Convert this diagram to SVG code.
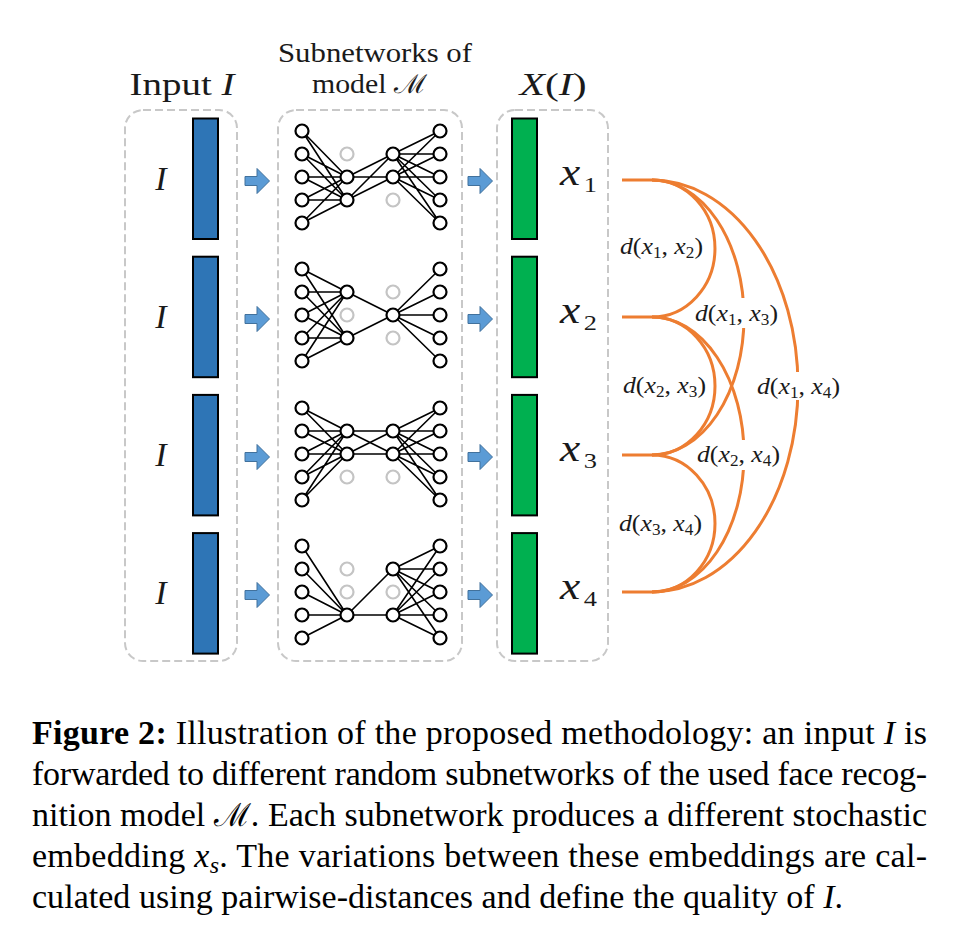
<svg xmlns="http://www.w3.org/2000/svg" width="961" height="945" viewBox="0 0 961 945">
<style>
.box{fill:none;stroke:#c8c8c8;stroke-width:2;stroke-dasharray:8 4}
.serif{font-family:"Liberation Serif",serif;fill:#1a1a1a}
.it{font-style:italic}
.bar1{fill:#2e75b6;stroke:#000;stroke-width:2}
.bar2{fill:#00b050;stroke:#000;stroke-width:2}
.arr{fill:#5b9bd5;stroke:#41719c;stroke-width:1}
.edge{fill:none;stroke:#000;stroke-width:1.6}
.n{fill:#fff;stroke:#000;stroke-width:2.2}
.g{fill:#fff;stroke:#c4c4c4;stroke-width:2.2}
.arc{fill:none;stroke:#ed7d31;stroke-width:3}
.lbl{font-size:24px}
.sub{font-size:16px}
.cap{font-size:34px;fill:#000}
</style>
<defs>
<polygon id="arrow" class="arr" points="245,-4.5 257,-4.5 257,-12.5 269.5,0 257,12.5 257,4.5 245,4.5"/>
</defs>
<rect width="961" height="945" fill="#fff"/>

<g id="header-input"><text class="serif" x="182" y="95" font-size="32" text-anchor="middle" textLength="105" lengthAdjust="spacingAndGlyphs">Input <tspan class="it">I</tspan></text></g>
<g id="header-sub">
<text class="serif" x="375" y="62" font-size="27" text-anchor="middle" textLength="194" lengthAdjust="spacingAndGlyphs">Subnetworks of</text>
<text class="serif" x="369.5" y="93" font-size="27" text-anchor="middle" textLength="115" lengthAdjust="spacingAndGlyphs">model <tspan font-family="DejaVu Serif,serif" font-size="26">ℳ</tspan></text>
</g>
<g id="header-x"><text class="serif" x="553" y="95" font-size="32" text-anchor="middle" textLength="67" lengthAdjust="spacingAndGlyphs"><tspan class="it">X</tspan>(<tspan class="it">I</tspan>)</text></g>

<g id="box-input"><rect class="box" x="125" y="110" width="112" height="551" rx="18"/></g>
<g id="box-sub"><rect class="box" x="278" y="110" width="184" height="551" rx="18"/></g>
<g id="box-x"><rect class="box" x="497" y="110" width="111" height="551" rx="18"/></g>

<g id="input-1"><text class="serif it" x="161" y="190" font-size="34" text-anchor="middle">I</text><rect class="bar1" x="193" y="118.5" width="25" height="120.5"/></g>
<g id="input-2"><text class="serif it" x="161" y="328" font-size="34" text-anchor="middle">I</text><rect class="bar1" x="193" y="256.7" width="25" height="120.5"/></g>
<g id="input-3"><text class="serif it" x="161" y="466" font-size="34" text-anchor="middle">I</text><rect class="bar1" x="193" y="394.9" width="25" height="120.5"/></g>
<g id="input-4"><text class="serif it" x="161" y="604" font-size="34" text-anchor="middle">I</text><rect class="bar1" x="193" y="533.1" width="25" height="120.5"/></g>

<g id="arrows">
<use href="#arrow" y="181"/><use href="#arrow" y="319"/><use href="#arrow" y="457"/><use href="#arrow" y="595"/>
<use href="#arrow" x="223" y="181"/><use href="#arrow" x="223" y="319"/><use href="#arrow" x="223" y="457"/><use href="#arrow" x="223" y="595"/>
</g>

<g id="net-1">
<path class="edge" d="M302 131L347 177M302 131L347 200M302 154L347 177M302 154L347 200M302 177L347 177M302 177L347 200M302 200L347 177M302 200L347 200M302 223L347 177M302 223L347 200M347 177L393 154M347 177L393 177M347 200L393 154M347 200L393 177M393 154L440 131M393 154L440 154M393 154L440 177M393 154L440 200M393 154L440 223M393 177L440 131M393 177L440 154M393 177L440 177M393 177L440 200M393 177L440 223"/>
<circle class="n" cx="302" cy="131" r="6.5"/><circle class="n" cx="302" cy="154" r="6.5"/><circle class="n" cx="302" cy="177" r="6.5"/><circle class="n" cx="302" cy="200" r="6.5"/><circle class="n" cx="302" cy="223" r="6.5"/>
<circle class="g" cx="347" cy="154" r="6.5"/><circle class="n" cx="347" cy="177" r="6.5"/><circle class="n" cx="347" cy="200" r="6.5"/>
<circle class="n" cx="393" cy="154" r="6.5"/><circle class="n" cx="393" cy="177" r="6.5"/><circle class="g" cx="393" cy="200" r="6.5"/>
<circle class="n" cx="440" cy="131" r="6.5"/><circle class="n" cx="440" cy="154" r="6.5"/><circle class="n" cx="440" cy="177" r="6.5"/><circle class="n" cx="440" cy="200" r="6.5"/><circle class="n" cx="440" cy="223" r="6.5"/>
</g>
<g id="net-2">
<path class="edge" d="M302 269L347 292M302 269L347 338M302 292L347 292M302 292L347 338M302 315L347 292M302 315L347 338M302 338L347 292M302 338L347 338M302 361L347 292M302 361L347 338M347 292L393 315M347 338L393 315M393 315L440 269M393 315L440 292M393 315L440 315M393 315L440 338M393 315L440 361"/>
<circle class="n" cx="302" cy="269" r="6.5"/><circle class="n" cx="302" cy="292" r="6.5"/><circle class="n" cx="302" cy="315" r="6.5"/><circle class="n" cx="302" cy="338" r="6.5"/><circle class="n" cx="302" cy="361" r="6.5"/>
<circle class="n" cx="347" cy="292" r="6.5"/><circle class="g" cx="347" cy="315" r="6.5"/><circle class="n" cx="347" cy="338" r="6.5"/>
<circle class="g" cx="393" cy="292" r="6.5"/><circle class="n" cx="393" cy="315" r="6.5"/><circle class="g" cx="393" cy="338" r="6.5"/>
<circle class="n" cx="440" cy="269" r="6.5"/><circle class="n" cx="440" cy="292" r="6.5"/><circle class="n" cx="440" cy="315" r="6.5"/><circle class="n" cx="440" cy="338" r="6.5"/><circle class="n" cx="440" cy="361" r="6.5"/>
</g>
<g id="net-3">
<path class="edge" d="M302 408L347 431M302 408L347 454M302 431L347 431M302 431L347 454M302 454L347 431M302 454L347 454M302 477L347 431M302 477L347 454M302 500L347 431M302 500L347 454M347 431L393 431M347 431L393 454M347 454L393 431M347 454L393 454M393 431L440 408M393 431L440 431M393 431L440 454M393 431L440 477M393 431L440 500M393 454L440 408M393 454L440 431M393 454L440 454M393 454L440 477M393 454L440 500"/>
<circle class="n" cx="302" cy="408" r="6.5"/><circle class="n" cx="302" cy="431" r="6.5"/><circle class="n" cx="302" cy="454" r="6.5"/><circle class="n" cx="302" cy="477" r="6.5"/><circle class="n" cx="302" cy="500" r="6.5"/>
<circle class="n" cx="347" cy="431" r="6.5"/><circle class="n" cx="347" cy="454" r="6.5"/><circle class="g" cx="347" cy="477" r="6.5"/>
<circle class="n" cx="393" cy="431" r="6.5"/><circle class="n" cx="393" cy="454" r="6.5"/><circle class="g" cx="393" cy="477" r="6.5"/>
<circle class="n" cx="440" cy="408" r="6.5"/><circle class="n" cx="440" cy="431" r="6.5"/><circle class="n" cx="440" cy="454" r="6.5"/><circle class="n" cx="440" cy="477" r="6.5"/><circle class="n" cx="440" cy="500" r="6.5"/>
</g>
<g id="net-4">
<path class="edge" d="M302 546L347 615M302 569L347 615M302 592L347 615M302 615L347 615M302 638L347 615M347 615L393 569M347 615L393 615M393 569L440 546M393 569L440 569M393 569L440 592M393 569L440 615M393 569L440 638M393 615L440 546M393 615L440 569M393 615L440 592M393 615L440 615M393 615L440 638"/>
<circle class="n" cx="302" cy="546" r="6.5"/><circle class="n" cx="302" cy="569" r="6.5"/><circle class="n" cx="302" cy="592" r="6.5"/><circle class="n" cx="302" cy="615" r="6.5"/><circle class="n" cx="302" cy="638" r="6.5"/>
<circle class="g" cx="347" cy="569" r="6.5"/><circle class="g" cx="347" cy="592" r="6.5"/><circle class="n" cx="347" cy="615" r="6.5"/>
<circle class="n" cx="393" cy="569" r="6.5"/><circle class="g" cx="393" cy="592" r="6.5"/><circle class="n" cx="393" cy="615" r="6.5"/>
<circle class="n" cx="440" cy="546" r="6.5"/><circle class="n" cx="440" cy="569" r="6.5"/><circle class="n" cx="440" cy="592" r="6.5"/><circle class="n" cx="440" cy="615" r="6.5"/><circle class="n" cx="440" cy="638" r="6.5"/>
</g>

<g id="emb-1"><rect class="bar2" x="512" y="118.5" width="25" height="120.5"/><text class="serif" x="560" y="185" textLength="37" lengthAdjust="spacingAndGlyphs"><tspan class="it" font-size="38">x</tspan><tspan font-size="22" dx="3" dy="7">1</tspan></text></g>
<g id="emb-2"><rect class="bar2" x="512" y="256.7" width="25" height="120.5"/><text class="serif" x="560" y="323" textLength="37" lengthAdjust="spacingAndGlyphs"><tspan class="it" font-size="38">x</tspan><tspan font-size="22" dx="3" dy="7">2</tspan></text></g>
<g id="emb-3"><rect class="bar2" x="512" y="394.9" width="25" height="120.5"/><text class="serif" x="560" y="461" textLength="37" lengthAdjust="spacingAndGlyphs"><tspan class="it" font-size="38">x</tspan><tspan font-size="22" dx="3" dy="7">3</tspan></text></g>
<g id="emb-4"><rect class="bar2" x="512" y="533.1" width="25" height="120.5"/><text class="serif" x="560" y="599" textLength="37" lengthAdjust="spacingAndGlyphs"><tspan class="it" font-size="38">x</tspan><tspan font-size="22" dx="3" dy="7">4</tspan></text></g>

<g id="connectors">
<path class="arc" d="M622 180H652M622 317H652M622 455H652M622 592H652"/>
<path class="arc" d="M652 180A63 68.5 0 0 1 652 317"/>
<path class="arc" d="M652 180A92 137.5 0 0 1 652 455"/>
<path class="arc" d="M652 180A146 206 0 0 1 652 592"/>
<path class="arc" d="M652 317A63 69 0 0 1 652 455"/>
<path class="arc" d="M652 317A92 137.5 0 0 1 652 592"/>
<path class="arc" d="M652 455A63 68.5 0 0 1 652 592"/>
<rect x="734" y="298" width="20" height="30" fill="#fff"/>
<rect x="788" y="372" width="20" height="28" fill="#fff"/>
<rect x="734" y="440" width="20" height="30" fill="#fff"/>
<text class="serif lbl" x="620" y="254" textLength="83" lengthAdjust="spacingAndGlyphs"><tspan class="it">d</tspan>(<tspan class="it">x</tspan><tspan class="sub" dy="4">1</tspan><tspan dy="-4">, </tspan><tspan class="it">x</tspan><tspan class="sub" dy="4">2</tspan><tspan dy="-4">)</tspan></text>
<text class="serif lbl" x="695" y="321" textLength="83" lengthAdjust="spacingAndGlyphs"><tspan class="it">d</tspan>(<tspan class="it">x</tspan><tspan class="sub" dy="4">1</tspan><tspan dy="-4">, </tspan><tspan class="it">x</tspan><tspan class="sub" dy="4">3</tspan><tspan dy="-4">)</tspan></text>
<text class="serif lbl" x="623" y="393" textLength="83" lengthAdjust="spacingAndGlyphs"><tspan class="it">d</tspan>(<tspan class="it">x</tspan><tspan class="sub" dy="4">2</tspan><tspan dy="-4">, </tspan><tspan class="it">x</tspan><tspan class="sub" dy="4">3</tspan><tspan dy="-4">)</tspan></text>
<text class="serif lbl" x="757" y="394" textLength="83" lengthAdjust="spacingAndGlyphs"><tspan class="it">d</tspan>(<tspan class="it">x</tspan><tspan class="sub" dy="4">1</tspan><tspan dy="-4">, </tspan><tspan class="it">x</tspan><tspan class="sub" dy="4">4</tspan><tspan dy="-4">)</tspan></text>
<text class="serif lbl" x="697" y="462" textLength="83" lengthAdjust="spacingAndGlyphs"><tspan class="it">d</tspan>(<tspan class="it">x</tspan><tspan class="sub" dy="4">2</tspan><tspan dy="-4">, </tspan><tspan class="it">x</tspan><tspan class="sub" dy="4">4</tspan><tspan dy="-4">)</tspan></text>
<text class="serif lbl" x="619" y="531" textLength="83" lengthAdjust="spacingAndGlyphs"><tspan class="it">d</tspan>(<tspan class="it">x</tspan><tspan class="sub" dy="4">3</tspan><tspan dy="-4">, </tspan><tspan class="it">x</tspan><tspan class="sub" dy="4">4</tspan><tspan dy="-4">)</tspan></text>
</g>

<g id="caption" class="serif cap">
<text x="32" y="744" textLength="895" lengthAdjust="spacing"><tspan font-weight="bold">Figure 2:</tspan> Illustration of the proposed methodology: an input <tspan class="it">I</tspan> is</text>
<text x="32" y="785" textLength="895" lengthAdjust="spacing">forwarded to different random subnetworks of the used face recog-</text>
<text x="32" y="826" textLength="895" lengthAdjust="spacing">nition model <tspan font-family="DejaVu Serif,serif" font-size="32">ℳ</tspan>. Each subnetwork produces a different stochastic</text>
<text x="32" y="867" textLength="895" lengthAdjust="spacing">embedding <tspan class="it">x</tspan><tspan font-size="24" class="it" dy="6">s</tspan><tspan dy="-6">. The variations between these embeddings are cal-</tspan></text>
<text x="32" y="908" textLength="811" lengthAdjust="spacing">culated using pairwise-distances and define the quality of <tspan class="it">I</tspan>.</text>
</g>
</svg>
